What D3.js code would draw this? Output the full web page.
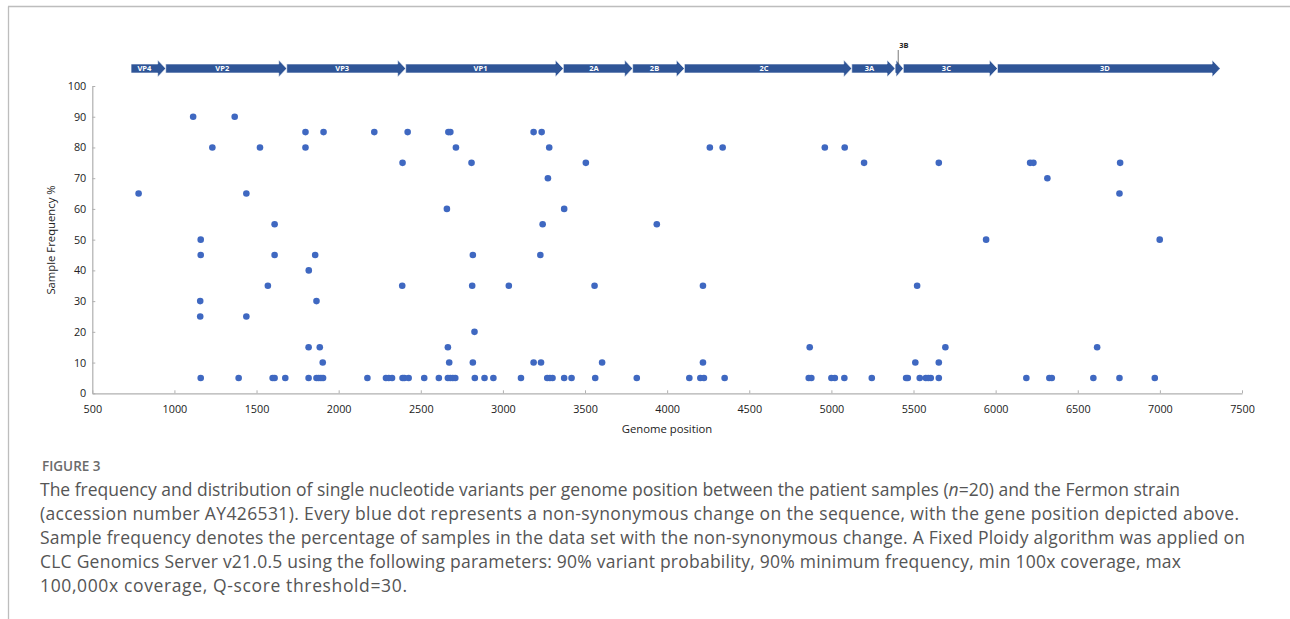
<!DOCTYPE html>
<html>
<head>
<meta charset="utf-8">
<script src="https://cdn.jsdelivr.net/npm/d3@7"></script>
<style>
  html, body { margin: 0; padding: 0; background: #fff; }
  svg { display: block; }
</style>
</head>
<body>
<svg id="chart" width="1290" height="619"></svg>
<script>
// ---- data ----
const genes      = ["VP4","VP2","VP3","VP1","2A","2B","2C","3A","3B","3C","3D"];
const geneStarts = [736, 947, 1684, 2408, 3368, 3790, 4105, 5124, 5388, 5438, 6011];
const geneEnds   = [947, 1684, 2408, 3368, 3790, 4105, 5124, 5388, 5438, 6011, 7367];

const positions = [
  1114, 1367,
  1798, 1908, 2217, 2420, 2668, 2680, 3187, 3236,
  1231, 1521, 1798, 2714, 3282, 4260, 4338, 4960, 5081,
  2389, 2809, 3505, 5199, 5654, 6210, 6230, 6758,
  3274, 6315,
  782, 1438, 6754,
  2659, 3373,
  1610, 3242, 3937,
  1160, 5942, 6999,
  1160, 1610, 1857, 2817, 3228,
  1818,
  1569, 2387, 2813, 3036, 3558, 4218, 5522,
  1157, 1865,
  1157, 1438,
  2827,
  1817, 1885, 2665, 4868, 5694, 6618,
  1903, 2673, 2817, 3187, 3232, 3604, 4218, 5511, 5654,
  1160, 1391, 1598, 1610, 1675, 1817, 1865, 1878, 1892, 1905, 2175, 2288, 2305, 2325,
  2389, 2400, 2426, 2521, 2610, 2665, 2680, 2695, 2710, 2829, 2888, 2942, 3110, 3270,
  3286, 3302, 3373, 3418, 3562, 3815, 4135, 4202, 4224, 4350, 4862, 4878, 5000, 5021,
  5079, 5246, 5455, 5465, 5538, 5575, 5590, 5605, 5654, 6187, 6327, 6342, 6595, 6754, 6969
];
const frequencies = [
  90, 90,
  85, 85, 85, 85, 85, 85, 85, 85,
  80, 80, 80, 80, 80, 80, 80, 80, 80,
  75, 75, 75, 75, 75, 75, 75, 75,
  70, 70,
  65, 65, 65,
  60, 60,
  55, 55, 55,
  50, 50, 50,
  45, 45, 45, 45, 45,
  40,
  35, 35, 35, 35, 35, 35, 35,
  30, 30,
  25, 25,
  20,
  15, 15, 15, 15, 15, 15,
  10, 10, 10, 10, 10, 10, 10, 10, 10,
  5, 5, 5, 5, 5, 5, 5, 5, 5, 5, 5, 5, 5, 5,
  5, 5, 5, 5, 5, 5, 5, 5, 5, 5, 5, 5, 5, 5,
  5, 5, 5, 5, 5, 5, 5, 5, 5, 5, 5, 5, 5, 5,
  5, 5, 5, 5, 5, 5, 5, 5, 5, 5, 5, 5, 5, 5, 5
];
const xTicks = [500, 1000, 1500, 2000, 2500, 3000, 3500, 4000, 4500, 5000, 5500, 6000, 6500, 7000, 7500];
const yTicks = [0, 10, 20, 30, 40, 50, 60, 70, 80, 90, 100];

const xTitle = "Genome position";
const yTitle = "Sample Frequency %";
const figLabel = "FIGURE 3";
const captionLines = [
  ["The frequency and distribution of single nucleotide variants per genome position between the patient samples (", {i:"n"}, "=20) and the Fermon strain"],
  ["(accession number AY426531). Every blue dot represents a non-synonymous change on the sequence, with the gene position depicted above."],
  ["Sample frequency denotes the percentage of samples in the data set with the non-synonymous change. A Fixed Ploidy algorithm was applied on"],
  ["CLC Genomics Server v21.0.5 using the following parameters: 90% variant probability, 90% minimum frequency, min 100x coverage, max"],
  ["100,000x coverage, Q-score threshold=30."]
];
const captionWidths = [1140, 1199, 1205, 1141, 367];

// ---- drawing ----
const svg = d3.select("#chart");
const x = d3.scaleLinear().domain([500, 7500]).range([92.3, 1242]);
const y = d3.scaleLinear().domain([0, 100]).range([393.3, 86]);
const chartFont = "'Open Sans', 'Liberation Sans', sans-serif";

// frame lines
svg.append("line").attr("x1", 8.5).attr("x2", 8.5).attr("y1", 6.5).attr("y2", 619)
  .attr("stroke", "#bdbdbd").attr("stroke-width", 1.3);
svg.append("line").attr("x1", 8).attr("x2", 1290).attr("y1", 6.5).attr("y2", 6.5)
  .attr("stroke", "#bdbdbd").attr("stroke-width", 1.3);

// axes
const xAxis = d3.axisBottom(x).tickValues(xTicks).tickSizeInner(-3).tickSizeOuter(0).tickPadding(12)
  .tickFormat(d3.format("d"));
const gx = svg.append("g").attr("transform", `translate(0,${y(0)})`).call(xAxis);
const yAxis = d3.axisLeft(y).tickValues(yTicks).tickSizeInner(3).tickSizeOuter(0).tickPadding(3);
const gy = svg.append("g").attr("transform", `translate(${x(500)},0)`).call(yAxis);
[gx, gy].forEach(g => {
  g.select(".domain").attr("stroke", "#b0b0b0").attr("stroke-width", 1.2);
  g.selectAll(".tick line").attr("stroke", "#b0b0b0");
  g.selectAll(".tick text").attr("fill", "#222").style("font-family", chartFont).style("font-size", "10.8px");
});
gy.selectAll(".tick line").attr("x2", 3);
gy.selectAll(".tick text").attr("x", -6);

svg.append("text").attr("x", 667).attr("y", 433).attr("text-anchor", "middle")
  .style("font-family", chartFont).style("font-size", "11.3px").attr("fill", "#222").text(xTitle);
svg.append("text").attr("transform", "translate(55,240) rotate(-90)").attr("text-anchor", "middle")
  .style("font-family", chartFont).style("font-size", "11.3px").attr("fill", "#222").text(yTitle);

// gene arrows
const geneColor = "#2f5597";
const bodyTop = 64, bodyBot = 73, headTop = 60, headBot = 77, headLen = 8;
const midY = (bodyTop + bodyBot) / 2;
genes.forEach((g, i) => {
  const x0 = x(geneStarts[i]), x1 = x(geneEnds[i]);
  const hb = Math.max(x0 + 1, x1 - headLen);
  const pts = [[x0, bodyTop], [hb, bodyTop], [hb, headTop], [x1, midY], [hb, headBot], [hb, bodyBot], [x0, bodyBot]];
  svg.append("path").attr("d", d3.line()(pts) + "Z").attr("fill", geneColor)
    .attr("stroke", "#ffffff").attr("stroke-width", 0.6);
  if (g === "3B") {
    const cx = (x0 + x1) / 2 - 1;
    svg.append("line").attr("x1", cx).attr("x2", cx).attr("y1", 50).attr("y2", 65)
      .attr("stroke", "#555").attr("stroke-width", 0.8);
    svg.append("text").attr("x", cx + 1).attr("y", 48).style("font-family", chartFont)
      .style("font-size", "7.5px").style("font-weight", "bold").attr("fill", "#222").text(g);
  } else {
    svg.append("text").attr("x", (x0 + hb) / 2).attr("y", midY + 2.8).attr("text-anchor", "middle")
      .style("font-family", chartFont).style("font-size", "7.5px").style("font-weight", "bold")
      .attr("fill", "#ffffff").text(g);
  }
});

// dots
svg.append("g").selectAll("circle").data(positions.map((p, i) => [p, frequencies[i]]))
  .join("circle")
  .attr("cx", d => x(d[0])).attr("cy", d => y(d[1])).attr("r", 3.3)
  .attr("fill", "#3f68c1");

// caption
svg.append("text").attr("x", 42).attr("y", 471).style("font-family", "'Open Sans', sans-serif")
  .style("font-size", "13.5px").style("font-weight", "600").attr("fill", "#6b6b6b").text(figLabel);
captionLines.forEach((parts, i) => {
  const t = svg.append("text").attr("x", 40).attr("y", 496 + i * 24)
    .attr("textLength", captionWidths[i]).attr("lengthAdjust", "spacing")
    .style("font-family", "'Open Sans', sans-serif").style("font-size", "17.5px").attr("fill", "#555");
  parts.forEach(p => {
    if (typeof p === "string") t.append("tspan").text(p);
    else t.append("tspan").style("font-style", "italic").text(p.i);
  });
});
</script>
</body>
</html>
